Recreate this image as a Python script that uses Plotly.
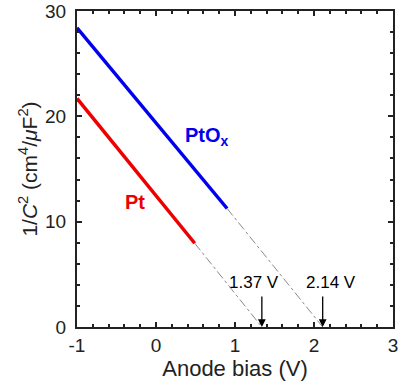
import plotly.graph_objects as go

# Data
pt_x = [-1.0, 0.49]
pt_y = [21.7, 7.95]
ptox_x = [-1.0, 0.9]
ptox_y = [28.4, 11.25]
intercept_x = [1.34, 2.11]          # where the extrapolations meet the axis (as drawn)
intercept_labels = ["1.37 V", "2.14 V"]
label_x = [1.24, 2.22]
label_y = [4.2, 4.2]
x_ticks = [-1, 0, 1, 2, 3]
x_ticktext = ["-1", "0", "1", "2", "3"]
y_ticks = [0, 10, 20, 30]

FONT = "Liberation Sans, Arial, sans-serif"
TXT = "#222222"

fig = go.Figure()
# extrapolation lines (from end of data to intercept)
for xs, ys, xi in [(pt_x, pt_y, intercept_x[0]), (ptox_x, ptox_y, intercept_x[1])]:
    fig.add_trace(go.Scatter(x=[xs[-1], xi], y=[ys[-1], 0], mode="lines",
                             line=dict(color="#8a8a8a", width=1, dash="dashdot"),
                             showlegend=False))
fig.add_trace(go.Scatter(x=pt_x, y=pt_y, mode="lines",
                         line=dict(color="#ee0000", width=3.5), showlegend=False))
fig.add_trace(go.Scatter(x=ptox_x, y=ptox_y, mode="lines",
                         line=dict(color="#0000ee", width=3.5), showlegend=False))

for xv, lab, lx, ly in zip(intercept_x, intercept_labels, label_x, label_y):
    fig.add_annotation(x=xv, y=0, xref="x", yref="y", ax=0, ay=-32,
                       showarrow=True, arrowhead=2, arrowsize=1.2, arrowwidth=1.3,
                       arrowcolor="black", text="")
    fig.add_annotation(x=lx, y=ly, xref="x", yref="y",
                       showarrow=False, text=lab,
                       font=dict(family=FONT, size=17, color="black"))

fig.add_annotation(x=0.64, y=18.1, xref="x", yref="y", showarrow=False,
                   text="<b>PtO<sub>x</sub></b>",
                   font=dict(family=FONT, size=20, color="#0000ee"))
fig.add_annotation(x=-0.265, y=11.9, xref="x", yref="y", showarrow=False,
                   text="<b>Pt</b>",
                   font=dict(family=FONT, size=20, color="#ee0000"))

axis_common = dict(showline=True, linecolor="#222222", linewidth=2, mirror="ticks",
                   ticks="inside", ticklen=5, tickwidth=1.5, tickcolor="#222222",
                   showgrid=False, zeroline=False, automargin=False,
                   tickfont=dict(family=FONT, size=19, color=TXT))

fig.update_xaxes(range=[-1, 3], tickmode="array", tickvals=x_ticks, ticktext=x_ticktext,
                 minor=dict(dtick=0.2, tick0=-1, ticks="inside", ticklen=3, tickwidth=1.5,
                            tickcolor="#222222"),
                 title=dict(text="Anode bias (V)", font=dict(family=FONT, size=22, color=TXT),
                            standoff=4),
                 **axis_common)
fig.update_yaxes(range=[0, 30], tickmode="array", tickvals=y_ticks, ticklabelstandoff=5,
                 minor=dict(dtick=2, ticks="inside", ticklen=3, tickwidth=1.5, tickcolor="#222222"),
                 title=dict(text="1/<i>C</i><sup>2</sup> (cm<sup>4</sup>/<i>μ</i>F<sup>2</sup>)",
                            font=dict(family=FONT, size=21, color=TXT), standoff=2),
                 **axis_common)

fig.update_layout(width=401, height=385, margin=dict(l=77, r=8, t=11, b=58),
                  plot_bgcolor="white", paper_bgcolor="white")

fig.write_html("out.html")
